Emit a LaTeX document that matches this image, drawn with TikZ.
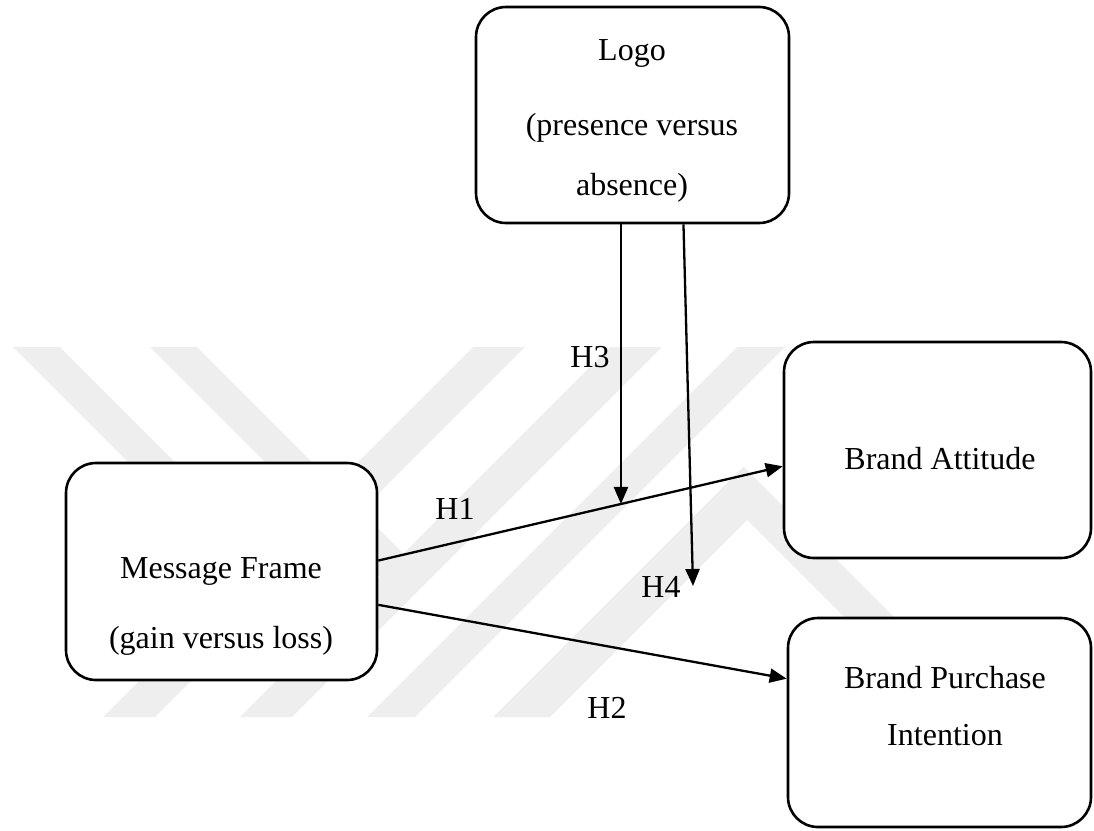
\documentclass[tikz,border=0pt]{standalone}
\usepackage{fontspec}
\setmainfont{Liberation Serif}
\usepackage{xcolor}
\usetikzlibrary{arrows.meta}
\definecolor{wmark}{RGB}{238,238,238}
\tikzset{
  box/.style={draw, line width=2.6pt, rounded corners=30pt, fill=white, inner sep=0pt},
  txt/.style={anchor=base, inner sep=0pt, font=\fontsize{32}{38}\selectfont},
}

\begin{document}
\begin{tikzpicture}[x=1pt, y=-1pt, line width=2.3pt, >={Triangle[length=17pt,width=14pt]}]
      \useasboundingbox (0,0) rectangle (1094,830);
      % watermark
      \foreach \dx in {0,137}
        \fill[wmark, xshift=\dx pt] (13,347) -- (60,347) -- (266.5,553.5) -- (473,347) -- (525,347)
          -- (155,717) -- (103,717) -- (243,577) -- cycle;
      \fill[wmark] (737,347) -- (785,347) -- (415,717) -- (367,717) -- cycle;
      \fill[wmark] (493,717) -- (743.5,466.5) -- (994,717) -- (944,717) -- (747,520) -- (550,717) -- cycle;
      % boxes
      \node[box, minimum width=313pt, minimum height=216pt] (logo) at (632.5,115) {};
      \node[box, minimum width=311pt, minimum height=217pt] (frame) at (221.5,571.5) {};
      \node[box, minimum width=307pt, minimum height=216pt] (attitude) at (937.5,450) {};
      \node[box, minimum width=303pt, minimum height=209pt] (intention) at (939.5,722.5) {};
      \node[txt] (logo-a) at (632,60) {Logo};
      \node[txt] (logo-b) at (632,135) {(presence versus};
      \node[txt] (logo-c) at (632,195) {absence)};
      \node[txt] (frame-a) at (221,578) {Message Frame};
      \node[txt] (frame-b) at (221,648) {(gain versus loss)};
      \node[txt] (attitude-a) at (940,469) {Brand Attitude};
      \node[txt] (intention-a) at (945,688) {Brand Purchase};
      \node[txt] (intention-b) at (945,745) {Intention};
      % arrows
      \draw[->] (frame.4) -- coordinate[pos=0.6] (mod) (attitude.186);
      \draw[->] (frame.-12) -- (intention.164);
      \draw[->] (logo.south -| mod) -- (mod);
      \coordinate (h4end) at (693,586);
      \draw[->] (logo.-65) -- (h4end);
      \node[txt] (h1) at (455,519) {H1};
      \node[txt] (h2) at (607,718) {H2};
      \node[txt] (h3) at (590,367) {H3};
      \node[txt] (h4) at (661,597) {H4};
\end{tikzpicture}
\end{document}
